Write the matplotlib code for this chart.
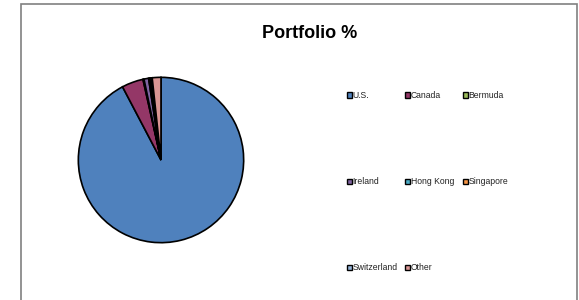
import matplotlib
matplotlib.use("Agg")
import matplotlib.pyplot as plt
from matplotlib.patches import Rectangle

plt.rcParams["font.family"] = ["Liberation Sans", "DejaVu Sans"]

# Portfolio split by country (percent)
countries = ["U.S.", "Canada", "Bermuda", "Ireland", "Hong Kong",
             "Singapore", "Switzerland", "Other"]
shares = [92.3, 4.2, 0.2, 0.9, 0.2, 0.2, 0.3, 1.7]
colors = ["#4F81BD", "#943767", "#9BBB59", "#8064A2", "#4BACC6",
          "#F79646", "#95B3D7", "#D99694"]

W, H = 579, 300
fig = plt.figure(figsize=(W / 100, H / 100), dpi=100)

# chart frame (open at the bottom edge of the image)
fig.add_artist(Rectangle((21 / W, -0.1), 556 / W, (H - 4) / H + 0.1,
                         transform=fig.transFigure, fill=False,
                         edgecolor="#808080", linewidth=1.2))

fig.text(310 / W, 1 - 33 / H, "Portfolio %", ha="center", va="center",
         fontsize=13, fontweight="bold")

# pie
cx, cy, r = 161, 160, 83.5
ax = fig.add_axes([(cx - r) / W, (H - cy - r) / H, 2 * r / W, 2 * r / H])
ax.pie(shares, colors=colors, startangle=90, counterclock=False,
       wedgeprops=dict(edgecolor="black", linewidth=1.2))
ax.set_xlim(-1.01, 1.01)
ax.set_ylim(-1.01, 1.01)
ax.axis("off")

# legend laid out row-wise, 3 per row like the Excel original
col_x = [349, 407, 465]
row_y = [95, 181, 267]
sq = 5
for i, (name, c) in enumerate(zip(countries, colors)):
    row, col = divmod(i, 3)
    x, y = col_x[col], row_y[row]
    fig.add_artist(Rectangle(((x - sq / 2) / W, 1 - (y + sq / 2) / H),
                             sq / W, sq / H, transform=fig.transFigure,
                             facecolor=c, edgecolor="black", linewidth=1.0))
    fig.text((x + sq / 2 + 1.2) / W, 1 - y / H, name, ha="left",
             va="center", fontsize=6.2, color="#222222")

fig.savefig("out.png", dpi=100)
